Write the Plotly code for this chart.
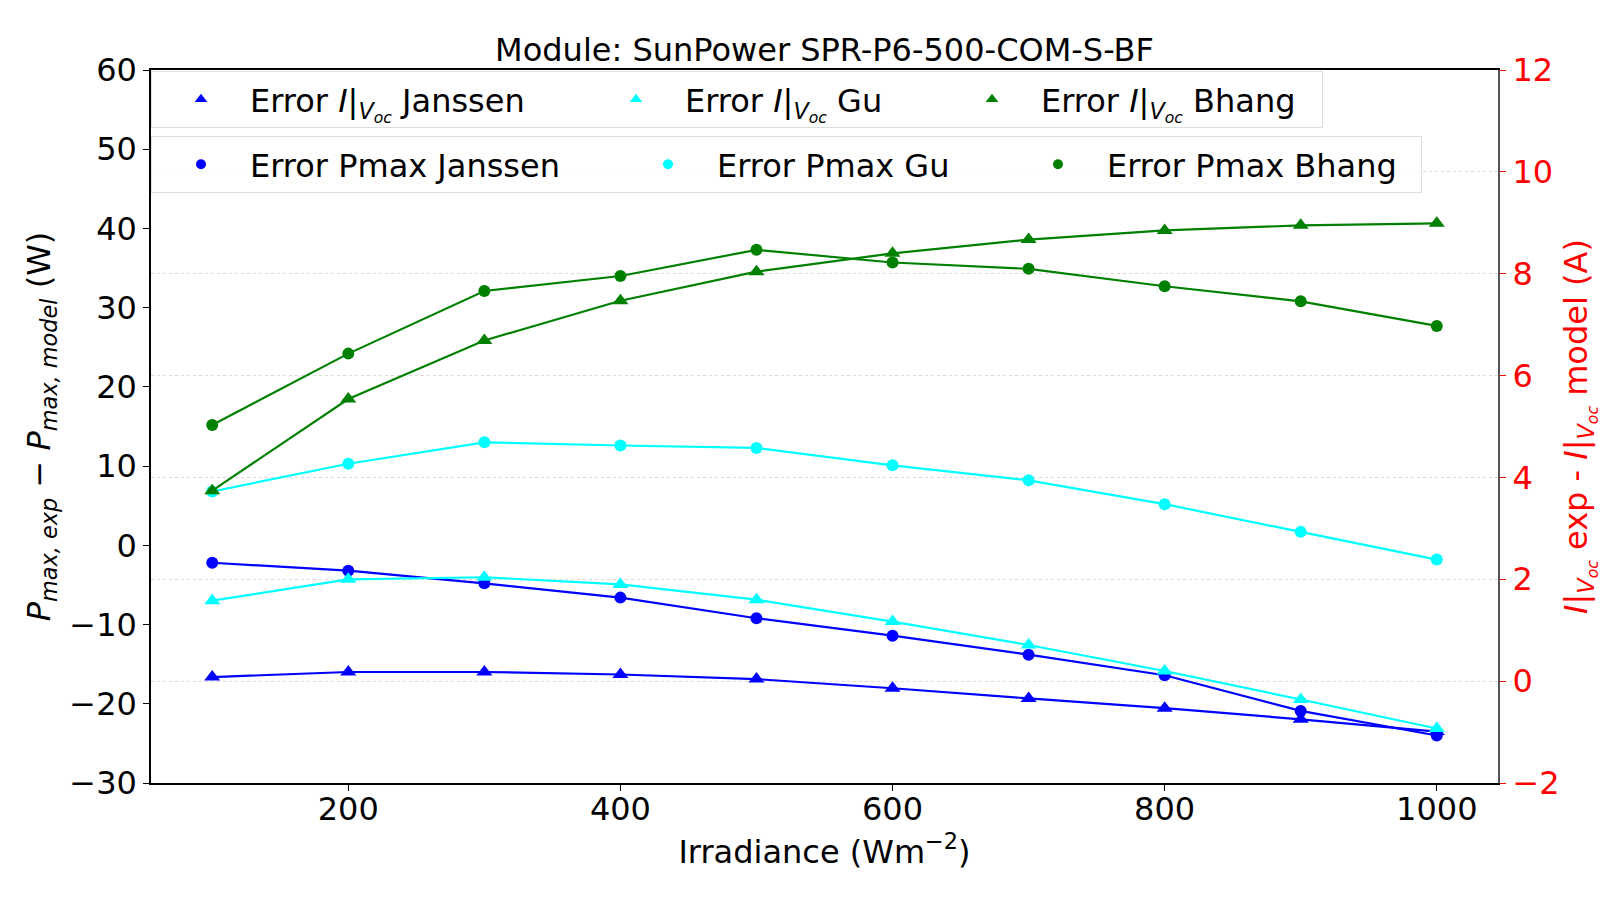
import plotly.graph_objects as go

irradiance = [100, 200, 300, 400, 500, 600, 700, 800, 900, 1000]

# Pmax errors (W), left axis
pmax_janssen = [-2.2, -3.2, -4.8, -6.6, -9.2, -11.4, -13.8, -16.4, -20.9, -24.0]
pmax_gu = [6.8, 10.3, 13.0, 12.6, 12.3, 10.1, 8.2, 5.2, 1.7, -1.8]
pmax_bhang = [15.2, 24.2, 32.1, 34.0, 37.3, 35.7, 34.9, 32.7, 30.8, 27.7]

# I|Voc errors (A), right axis
ivoc_janssen = [0.08, 0.18, 0.18, 0.13, 0.04, -0.14, -0.34, -0.53, -0.75, -0.99]
ivoc_gu = [1.58, 2.0, 2.04, 1.9, 1.6, 1.17, 0.71, 0.2, -0.36, -0.93]
ivoc_bhang = [3.74, 5.54, 6.69, 7.47, 8.04, 8.4, 8.67, 8.85, 8.95, 8.99]

x_ticks = [200, 400, 600, 800, 1000]
y_left_ticks = [-30, -20, -10, 0, 10, 20, 30, 40, 50, 60]
y_right_ticks = [-2, 0, 2, 4, 6, 8, 10, 12]

IV = "<i>I</i>|<sub><i>V<sub>oc</sub></i></sub>"

FONT = "DejaVu Sans"
FS = 32

fig = go.Figure()

pmax_series = [("Error Pmax Janssen", pmax_janssen, "blue", 364),
               ("Error Pmax Gu", pmax_gu, "cyan", 287),
               ("Error Pmax Bhang", pmax_bhang, "green", 309)]
ivoc_series = [("Error " + IV + " Janssen", ivoc_janssen, "blue", 332),
               ("Error " + IV + " Gu", ivoc_gu, "cyan", 253),
               ("Error " + IV + " Bhang", ivoc_bhang, "green", 276)]

for name, vals, col, lw in pmax_series:
    fig.add_trace(go.Scatter(x=irradiance, y=vals, mode="lines+markers",
                             line=dict(color=col, width=2.2),
                             marker=dict(symbol="circle", size=12, color=col),
                             showlegend=False, yaxis="y"))
    fig.add_trace(go.Scatter(x=irradiance, y=vals, mode="markers", name=name,
                             marker=dict(symbol="circle", size=10, color=col),
                             legend="legend2", legendwidth=lw, yaxis="y"))

for name, vals, col, lw in ivoc_series:
    fig.add_trace(go.Scatter(x=irradiance, y=vals, mode="lines+markers",
                             line=dict(color=col, width=2.2),
                             marker=dict(symbol="triangle-up", size=14, color=col),
                             showlegend=False, yaxis="y2"))
    fig.add_trace(go.Scatter(x=irradiance, y=vals, mode="markers", name=name,
                             marker=dict(symbol="triangle-up", size=11, color=col),
                             legend="legend", legendwidth=lw, yaxis="y2"))

fig.update_layout(
    width=1616, height=900,
    paper_bgcolor="white", plot_bgcolor="white",
    font=dict(family=FONT, size=FS, color="black"),
    margin=dict(l=143, r=126, t=62, b=125),
    title=dict(text="Module: SunPower SPR-P6-500-COM-S-BF", x=0.5, xref="paper",
               xanchor="center", y=1 - 41.5 / 900, yanchor="middle", yref="container",
               font=dict(family=FONT, size=FS, color="black")),
    xaxis=dict(range=[55, 1045], tickvals=x_ticks, ticks="outside", ticklen=6,
               tickcolor="black", showline=True, linecolor="black", linewidth=1.5,
               mirror=True, showgrid=False, zeroline=False, ticklabelstandoff=-9,
               title=dict(text="Irradiance (Wm<sup>−2</sup>)", standoff=13,
                          font=dict(size=FS))),
    yaxis=dict(range=[-30, 60], tickvals=y_left_ticks, ticks="outside", ticklen=6,
               tickcolor="black", showline=True, linecolor="black", linewidth=1.5,
               showgrid=False, zeroline=False,
               title=dict(text="<i>P<sub>max, exp</sub></i> − <i>P<sub>max, model</sub></i> (W)",
                          standoff=9, font=dict(size=FS))),
    yaxis2=dict(range=[-2, 12], tickvals=y_right_ticks, overlaying="y", side="right",
                ticks="outside", ticklen=6, tickcolor="red",
                tickfont=dict(color="red", size=FS),
                showline=True, linecolor="#555555", linewidth=2,
                showgrid=True, gridcolor="#d9d9d9", griddash="dot", gridwidth=1,
                zeroline=False,
                title=dict(text=IV + " exp - " + IV + " model (A)", standoff=6,
                           font=dict(color="red", size=FS))),
    legend=dict(orientation="h", x=0.0, y=0.9986, xanchor="left", yanchor="top",
                bgcolor="rgba(255,255,255,0.8)", bordercolor="#dddddd", borderwidth=1,
                font=dict(size=FS), itemwidth=88),
    legend2=dict(orientation="h", x=0.0, y=0.9074, xanchor="left", yanchor="top",
                 bgcolor="rgba(255,255,255,0.8)", bordercolor="#dddddd", borderwidth=1,
                 font=dict(size=FS), itemwidth=88),
)

fig.write_html("out.html")
